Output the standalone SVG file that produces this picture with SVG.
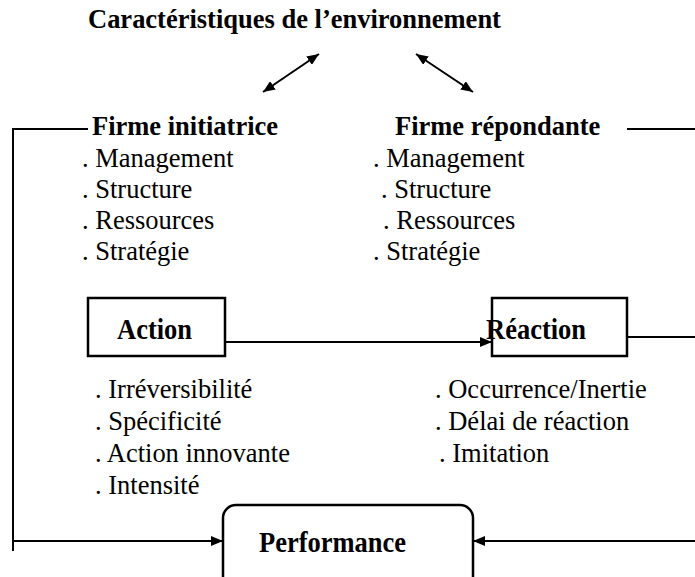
<svg xmlns="http://www.w3.org/2000/svg" width="695" height="577" viewBox="0 0 695 577">
<style>
text{font-family:"Liberation Serif","Times New Roman",serif;font-size:26.5px;fill:#000}
.b{font-weight:bold}
.ln{stroke:#000;stroke-width:2;fill:none}
.box{stroke:#000;stroke-width:2.5;fill:#fff}
</style>
<defs>
<marker id="ah" viewBox="0 0 12 10" refX="12" refY="5" markerWidth="12" markerHeight="10" markerUnits="userSpaceOnUse" orient="auto-start-reverse">
<path d="M0,0 L12,5 L0,10 Z" fill="#000"/>
</marker>
</defs>
<rect width="695" height="577" fill="#fff"/>
<g id="connectors">
<polyline class="ln" points="88,129 13,129 13,551"/>
<line class="ln" x1="13" y1="541" x2="223" y2="541" marker-end="url(#ah)"/>
<line class="ln" x1="627" y1="129" x2="695" y2="129"/>
<line class="ln" x1="627" y1="337" x2="695" y2="337"/>
<line class="ln" x1="695" y1="541" x2="473" y2="541" marker-end="url(#ah)"/>
<line class="ln" x1="225" y1="342" x2="492" y2="342" marker-end="url(#ah)"/>
<line class="ln" x1="263" y1="92" x2="319" y2="54" marker-start="url(#ah)" marker-end="url(#ah)"/>
<line class="ln" x1="416" y1="54" x2="473" y2="92" marker-start="url(#ah)" marker-end="url(#ah)"/>
</g>
<g id="environnement">
<text class="b" transform="translate(88 28) scale(1 1.05)">Caractéristiques de l’environnement</text>
</g>
<g id="firme-initiatrice">
<text class="b" transform="translate(92 135) scale(1 1.05)">Firme initiatrice</text>
<text transform="translate(82 167) scale(1 1.05)">. Management</text>
<text transform="translate(82 198) scale(1 1.05)">. Structure</text>
<text transform="translate(82 229) scale(1 1.05)">. Ressources</text>
<text transform="translate(82 260) scale(1 1.05)">. Stratégie</text>
</g>
<g id="firme-repondante">
<text class="b" transform="translate(395 135) scale(1 1.05)">Firme répondante</text>
<text transform="translate(373 167) scale(1 1.05)">. Management</text>
<text transform="translate(381 198) scale(1 1.05)">. Structure</text>
<text transform="translate(383 229) scale(1 1.05)">. Ressources</text>
<text transform="translate(373 260) scale(1 1.05)">. Stratégie</text>
</g>
<g id="action">
<rect class="box" x="88" y="298" width="137" height="58"/>
<text class="b" transform="translate(117 339) scale(1 1.1)">Action</text>
<text transform="translate(95 398) scale(1 1.05)">. Irréversibilité</text>
<text transform="translate(95 430) scale(1 1.05)">. Spécificité</text>
<text transform="translate(95 462) scale(1 1.05)">. Action innovante</text>
<text transform="translate(95 494) scale(1 1.05)">. Intensité</text>
</g>
<g id="reaction">
<rect class="box" x="492" y="298" width="135" height="58"/>
<text class="b" transform="translate(486 339) scale(1 1.1)">Réaction</text>
<text transform="translate(435 398) scale(1 1.05)">. Occurrence/Inertie</text>
<text transform="translate(435 430) scale(1 1.05)">. Délai de réaction</text>
<text transform="translate(439 462) scale(1 1.05)">. Imitation</text>
</g>
<g id="performance">
<rect class="box" x="223" y="505" width="250" height="90" rx="13"/>
<text class="b" transform="translate(259 552) scale(1 1.1)">Performance</text>
</g>
</svg>
